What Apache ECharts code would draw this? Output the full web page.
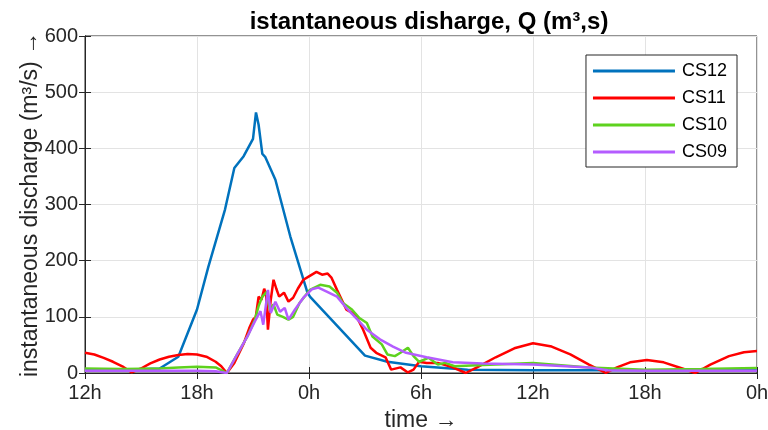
<!DOCTYPE html>
<html>
<head>
<meta charset="utf-8">
<script src="https://cdn.jsdelivr.net/npm/echarts@6/dist/echarts.min.js"></script>
<style>html,body{margin:0;padding:0;background:#fff;}#c{width:768px;height:430px;}</style>
</head>
<body>
<div id="c"></div>
<script>
// x positions are hours since the first "12h" tick
var xTicks = ['12h','18h','0h','6h','12h','18h','0h'];
var seriesNames = ['CS12','CS11','CS10','CS09'];
var seriesColors = ['#0072BD','#FF0000','#5ED21E','#B45CFF'];

var cs12H = [0,2,4,5,6,6.6,7.5,8,8.5,9,9.16,9.3,9.5,9.65,10.2,11,11.9,12.05,15,16.2,18,20.5,24,30,36];
var cs12V = [6,6,8,29,113,188,291,365,386,417,464,442,390,385,344,243,145,136,31,20,12,6,5,5,5];

var cs11H = [0,0.5,1,1.5,2,2.5,3,3.5,4,4.5,5,5.5,6,6.5,7,7.3,7.6,8.0,8.5,8.8,9.0,9.15,9.3,9.45,9.6,9.7,9.8,9.95,10.1,10.25,10.4,10.66,10.9,11.15,11.4,11.7,12.0,12.4,12.7,13.0,13.2,13.5,14.0,14.5,14.9,15.3,15.6,16.1,16.4,16.9,17.3,17.6,17.9,18.3,18.9,19.7,20.4,21,22,23,24,25,26,27,27.9,28.5,29.2,30.1,31,32,32.7,33.5,34.5,35.3,36];
var cs11V = [36,33,27,20,12,1,8,17,24,29,32,34,33,29,20,12,0,18,52,80,95,100,136,130,150,140,77,130,166,150,136,143,127,134,150,166,172,180,175,177,170,148,113,104,77,45,36,28,6,10,1,6,20,18,18,10,0,10,28,44,53,47,33,15,0,10,19,23,19,8,0,15,30,37,39];

var cs10H = [0,2,4,5,6,7,7.6,8.1,8.7,9.1,9.3,9.5,9.75,9.9,10.1,10.3,10.6,10.9,11.15,11.5,12.05,12.6,13.1,13.5,13.8,14.3,14.7,15.1,15.4,15.9,16.2,16.6,16.9,17.3,17.6,17.9,18.4,18.9,19.3,19.8,21,24,27,30,33,36];
var cs10V = [8,7,8,10,11,10,0,30,65,95,119,136,145,113,122,104,100,95,100,125,148,157,154,143,125,113,98,89,65,51,33,30,36,45,30,20,27,15,18,12,14,18,10,6,7,9];

var cs09H = [0,3,6,7,7.6,8.1,8.7,9.1,9.4,9.55,9.8,9.95,10.2,10.45,10.7,10.9,11.25,11.7,12.15,12.5,12.95,13.5,14,14.6,15.1,15.8,16.5,17.2,18.3,19.7,21.3,24,27,28,30,33,36];
var cs09V = [4,4,4,3,0,30,65,92,110,86,148,107,127,109,116,95,113,134,149,152,145,136,116,95,77,60,47,36,28,19,17,15,10,5,4,4,4];

function zip(h, v) { return h.map(function (x, i) { return [x, v[i]]; }); }
var allH = [cs12H, cs11H, cs10H, cs09H];
var allV = [cs12V, cs11V, cs10V, cs09V];

var font = 'Liberation Sans, Arial, Helvetica, sans-serif';
var axisCol = '#262626';

var chart = echarts.init(document.getElementById('c'), null, {renderer: 'canvas'});
chart.setOption({
  animation: false,
  backgroundColor: '#fff',
  title: {
    text: 'istantaneous disharge, Q (m\u00b3,s)',
    left: 424, top: 5, textAlign: 'center',
    textStyle: {fontFamily: font, fontSize: 24, fontWeight: 'bold', color: '#000'}
  },
  legend: {
    right: 31, top: 55, orient: 'vertical',
    data: seriesNames,
    itemWidth: 82, itemHeight: 3, itemGap: 9,
    padding: [7, 10, 6, 7],
    borderColor: '#262626', borderWidth: 1, backgroundColor: '#fff',
    icon: 'rect',
    textStyle: {fontFamily: font, fontSize: 18, color: '#000', padding: [0, 0, 0, 2]}
  },
  grid: {left: 85, right: 11, top: 36, bottom: 57, show: true, borderColor: axisCol, borderWidth: 1,
         containLabel: false, outerBoundsMode: 'none'},
  xAxis: [{
    type: 'value', min: 0, max: 36, interval: 6,
    name: 'time \u2192', nameLocation: 'middle', nameGap: 36, nameMoveOverlap: false,
    nameTextStyle: {fontFamily: font, fontSize: 23, color: axisCol},
    axisLine: {show: true, lineStyle: {color: axisCol}},
    axisTick: {show: true, inside: true, length: 6, lineStyle: {color: axisCol}},
    axisLabel: {fontFamily: font, fontSize: 20, color: axisCol, margin: 10,
      formatter: function (v) { return xTicks[Math.round(v / 6)]; }},
    splitLine: {show: true, lineStyle: {color: '#e3e3e3'}}
  }, {
    type: 'value', min: 0, max: 36, interval: 6, position: 'top',
    axisLine: {show: true, lineStyle: {color: axisCol}},
    axisTick: {show: true, inside: true, length: 6, lineStyle: {color: axisCol}},
    axisLabel: {show: false}, splitLine: {show: false}
  }],
  yAxis: [{
    type: 'value', min: 0, max: 600, interval: 100,
    name: 'instantaneous discharge (m\u00b3/s) \u2192', nameLocation: 'middle', nameGap: 43, nameRotate: 90,
    nameMoveOverlap: false,
    nameTextStyle: {fontFamily: font, fontSize: 23, color: axisCol},
    axisLine: {show: true, lineStyle: {color: axisCol}},
    axisTick: {show: true, inside: true, length: 6, lineStyle: {color: axisCol}},
    axisLabel: {fontFamily: font, fontSize: 20, color: axisCol, margin: 7},
    splitLine: {show: true, lineStyle: {color: '#e3e3e3'}}
  }, {
    type: 'value', min: 0, max: 600, interval: 100, position: 'right',
    axisLine: {show: true, lineStyle: {color: axisCol}},
    axisTick: {show: true, inside: true, length: 6, lineStyle: {color: axisCol}},
    axisLabel: {show: false}, splitLine: {show: false}
  }],
  series: seriesNames.map(function (n, i) {
    return {
      name: n, type: 'line', data: zip(allH[i], allV[i]),
      showSymbol: false, symbol: 'none', smooth: false,
      color: seriesColors[i],
      lineStyle: {width: 2.5, color: seriesColors[i]},
      z: 2 + i
    };
  })
});
</script>
</body>
</html>
